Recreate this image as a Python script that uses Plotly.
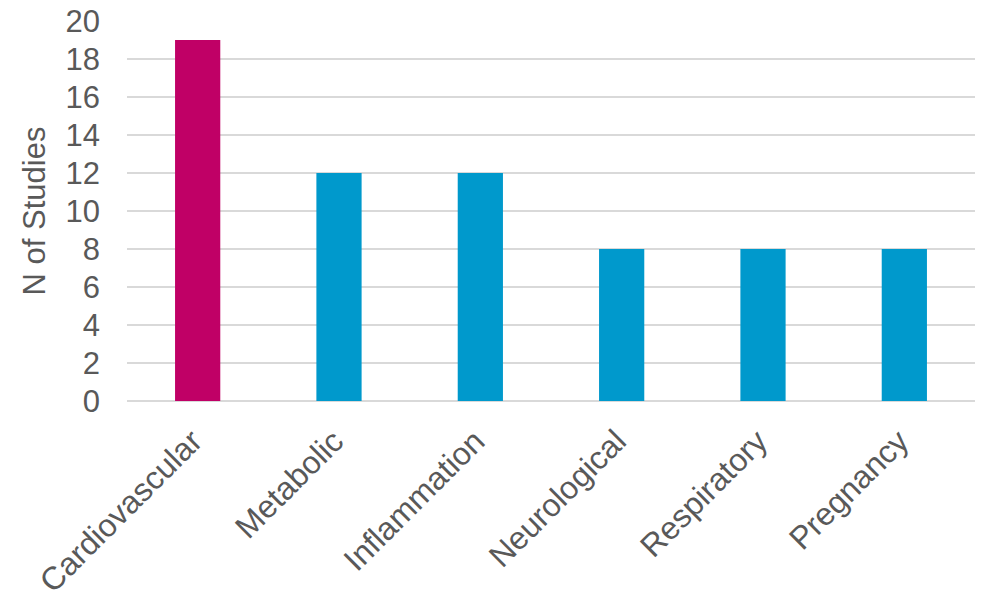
import plotly.graph_objects as go

categories = ["Cardiovascular", "Metabolic", "Inflammation", "Neurological", "Respiratory", "Pregnancy"]
n_studies = [19, 12, 12, 8, 8, 8]
bar_colors = ["#C00066", "#0099CC", "#0099CC", "#0099CC", "#0099CC", "#0099CC"]
y_ticks = [0, 2, 4, 6, 8, 10, 12, 14, 16, 18, 20]

text_color = "#595959"
grid_color = "#D9D9D9"
font_family = "Liberation Sans, Arial, sans-serif"

fig = go.Figure(
    go.Bar(
        x=categories,
        y=n_studies,
        marker=dict(color=bar_colors, line=dict(width=0)),
    )
)

fig.update_layout(
    width=982,
    height=591,
    margin=dict(l=127, r=7, t=21, b=190),
    paper_bgcolor="white",
    plot_bgcolor="white",
    bargap=0.68,
    showlegend=False,
    font=dict(family=font_family, color=text_color, size=32),
)

fig.update_yaxes(
    range=[0, 20],
    tickvals=y_ticks,
    ticktext=[str(v) for v in y_ticks],
    showgrid=True,
    gridcolor=grid_color,
    gridwidth=2,
    zeroline=True,
    zerolinecolor=grid_color,
    zerolinewidth=2,
    showline=False,
    ticks="",
    automargin=False,
    ticklabelstandoff=26,
    tickfont=dict(size=31, color=text_color),
    title=dict(text="N of Studies", font=dict(size=31, color=text_color), standoff=10),
)

fig.update_xaxes(
    tickangle=-45,
    showgrid=False,
    showline=False,
    ticks="",
    automargin=False,
    ticklabelstandoff=14,
    ticklabelshift=-5,
    tickfont=dict(size=32, color=text_color),
)

fig.write_html("out.html")
